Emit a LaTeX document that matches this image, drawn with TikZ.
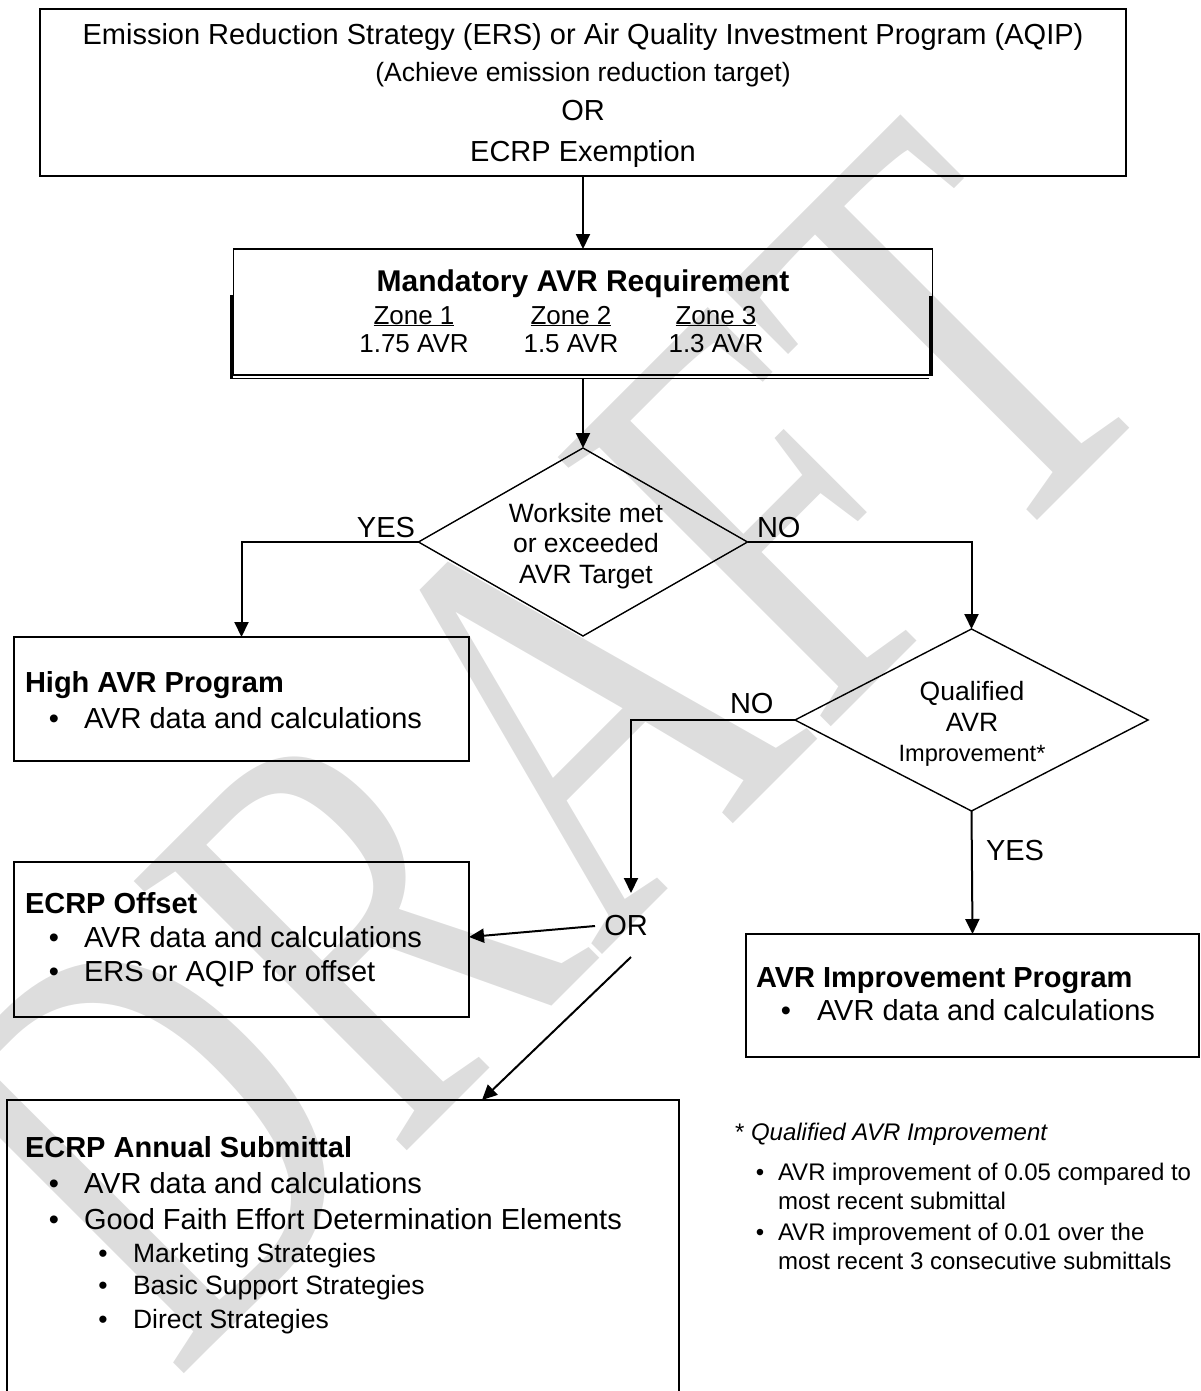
\documentclass[tikz,border=0pt]{standalone}
\usepackage{fontspec}
\setmainfont{Liberation Sans}
\newfontfamily\wmfont{Liberation Serif}
\usetikzlibrary{arrows.meta,shapes.geometric}
\definecolor{wm}{RGB}{221,221,221}
\newcommand\fsz[1]{\fontsize{#1}{#1}\selectfont}
\begin{document}
\begin{tikzpicture}[x=1pt,y=-1pt,
  box/.style={draw, line width=1.6pt, inner sep=0pt, outer sep=0pt},
  dia/.style={draw, diamond, line width=1.4pt, inner sep=0pt, outer sep=0pt},
  arr/.style={line width=2pt, -{Triangle[length=15pt,width=14pt]}},
  txt/.style={inner sep=0pt, outer sep=0pt, anchor=base},
  ltxt/.style={inner sep=0pt, outer sep=0pt, anchor=base west},
  big/.style={font=\fsz{29}},
  mid/.style={font=\fsz{26.5}},
  sml/.style={font=\fsz{24}},
  bold/.style={font=\fsz{29}\bfseries},
]
\useasboundingbox (0,0) rectangle (1201,1391);
\clip (0,0) rectangle (1201,1391);
% watermark
\node[rotate=45, text=wm, inner sep=0pt] (wmark) at (540,745) {\scalebox{0.9}[1.22]{\fontsize{480}{480}\selectfont\wmfont DRAFT}};

% boxes
\node[box, minimum width=1086pt, minimum height=167pt] (top) at (583,92.5) {};
\node[box, minimum width=699pt, minimum height=126pt] (mand) at (583,312) {};
\node[dia, minimum width=329pt, minimum height=188pt] (d1) at (583,542) {};
\node[box, minimum width=455pt, minimum height=124pt] (high) at (241.5,699) {};
\node[dia, minimum width=353pt, minimum height=182pt] (d2) at (971.5,720) {};
\node[box, minimum width=455pt, minimum height=155pt] (offset) at (241.5,939.5) {};
\node[box, minimum width=453pt, minimum height=123pt] (imp) at (972.5,995.5) {};
\node[inner sep=0pt, outer sep=0pt, minimum width=672pt, minimum height=292pt] (ann) at (343,1246) {};
\draw[line width=1.6pt] (ann.south west) -- (ann.north west) -- (ann.north east) -- (ann.south east);

% mandatory box extra frame lines
\draw[line width=3pt] (231,295) -- (231,379);
\draw[line width=1.4pt] (230,378.5) -- (929,378.5);
\draw[line width=3pt] (930,296) -- (930,375);

% connectors
\coordinate (orin) at (631,893);
\coordinate (orL) at (595,926);
\coordinate (orB) at (631,957);
\draw[arr] (top.south) -- (mand.north);
\draw[arr] ([yshift=-3pt]mand.south) -- (d1.north);
\draw[arr] (d1.west) -| (high.north);
\draw[arr] (d1.east) -| (d2.north);
\draw[arr] (d2.west) -| (orin);
\draw[arr] (d2.south) -- (imp.north);
\draw[arr] (orL) -- ([yshift=2.5pt]offset.east);
\draw[arr] (orB) -- ([xshift=139pt]ann.north);

% top box text
\node[txt, big] (t1) at (583,45) {Emission Reduction Strategy (ERS) or Air Quality Investment Program (AQIP)};
\node[txt, mid] (t2) at (583,81.5) {(Achieve emission reduction target)};
\node[txt, big] (t3) at (583,120.5) {OR};
\node[txt, big] (t4) at (583,162) {ECRP Exemption};

% mandatory text
\node[txt, font=\fsz{30}\bfseries] (m1) at (583,291) {Mandatory AVR Requirement};
\node[txt, font=\fsz{26}] (z1) at (414,324) {\underline{Zone 1}};
\node[txt, font=\fsz{26}] (z2) at (571,324) {\underline{Zone 2}};
\node[txt, font=\fsz{26}] (z3) at (716,324) {\underline{Zone 3}};
\node[txt, font=\fsz{26}] (v1) at (414,352) {1.75 AVR};
\node[txt, font=\fsz{26}] (v2) at (571,352) {1.5 AVR};
\node[txt, font=\fsz{26}] (v3) at (716,352) {1.3 AVR};

% diamond 1 text
\node[txt, mid] (w1) at (586,522.5) {Worksite met};
\node[txt, mid] (w2) at (586,552.5) {or exceeded};
\node[txt, mid] (w3) at (586,583.5) {AVR Target};
\node[inner sep=0pt, outer sep=0pt, anchor=base east, big] (yes1) at (415,537) {YES};
\node[ltxt, big] (no1) at (757,537) {NO};

% high AVR
\node[ltxt, bold] (h1) at (25,692) {High AVR Program};
\node[txt, big] (hb) at (54,728) {•};
\node[ltxt, big] (h2) at (84,728) {AVR data and calculations};

% diamond 2 text
\node[txt, mid] (q1) at (972,700.5) {Qualified};
\node[txt, mid] (q2) at (972,731.5) {AVR};
\node[txt, font=\fsz{23.6}] (q3) at (972,761.4) {Improvement*};
\node[ltxt, big] (no2) at (730,713) {NO};
\node[ltxt, big] (yes2) at (986,860) {YES};

% OR
\node[txt, big] (or) at (626,935.5) {OR};

% offset
\node[ltxt, bold] (o1) at (25,913.5) {ECRP Offset};
\node[txt, big] (ob1) at (54,947.5) {•};
\node[ltxt, big] (o2) at (84,947.5) {AVR data and calculations};
\node[txt, big] (ob2) at (54,981.5) {•};
\node[ltxt, big] (o3) at (84,981.5) {ERS or AQIP for offset};

% improvement
\node[ltxt, bold] (i1) at (756,987.5) {AVR Improvement Program};
\node[txt, big] (ib) at (786,1020.5) {•};
\node[ltxt, big] (i2) at (817,1020.5) {AVR data and calculations};

% annual
\node[ltxt, bold] (a1) at (25,1157.5) {ECRP Annual Submittal};
\node[txt, big] (ab1) at (54,1193.5) {•};
\node[ltxt, big] (a2) at (84,1193.5) {AVR data and calculations};
\node[txt, big] (ab2) at (54,1229.5) {•};
\node[ltxt, big] (a3) at (84,1229.5) {Good Faith Effort Determination Elements};
\node[txt, mid] (sb1) at (103,1262.5) {•};
\node[ltxt, mid] (s1) at (133,1262.5) {Marketing Strategies};
\node[txt, mid] (sb2) at (103,1294.5) {•};
\node[ltxt, mid] (s2) at (133,1294.5) {Basic Support Strategies};
\node[txt, mid] (sb3) at (103,1328.5) {•};
\node[ltxt, mid] (s3) at (133,1328.5) {Direct Strategies};

% footnote
\node[ltxt, sml] (f0) at (735,1140.5) {* \itshape Qualified AVR Improvement};
\node[txt, sml] (fb1) at (760,1180.5) {•};
\node[ltxt, sml] (f1) at (778,1180.5) {AVR improvement of 0.05 compared to};
\node[ltxt, sml] (f2) at (778,1209.5) {most recent submittal};
\node[txt, sml] (fb2) at (760,1240.5) {•};
\node[ltxt, sml] (f3) at (778,1240.5) {AVR improvement of 0.01 over the};
\node[ltxt, sml] (f4) at (778,1269.5) {most recent 3 consecutive submittals};
\end{tikzpicture}
\end{document}
